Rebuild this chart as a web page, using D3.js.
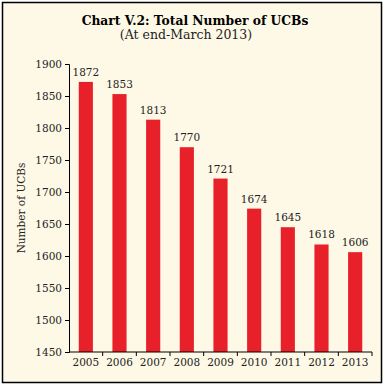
<!DOCTYPE html>
<html>
<head>
<meta charset="utf-8">
<script src="https://cdn.jsdelivr.net/npm/d3@7"></script>
<style>
  body { margin: 0; background: #fff; }
  svg { display: block; }
</style>
</head>
<body>
<div id="chart"></div>
<script>
// Data
var years = ["2005", "2006", "2007", "2008", "2009", "2010", "2011", "2012", "2013"];
var ucbs = [1872, 1853, 1813, 1770, 1721, 1674, 1645, 1618, 1606];
var yTicks = [1450, 1500, 1550, 1600, 1650, 1700, 1750, 1800, 1850, 1900];

var width = 387, height = 387;
var margin = {top: 64, right: 15, bottom: 35, left: 69};
var font = "'DejaVu Serif', 'Liberation Serif', serif";

var svg = d3.select("#chart")
  .append("svg")
    .attr("width", width)
    .attr("height", height);

// Frame
svg.append("rect")
  .attr("x", 2.5)
  .attr("y", 2.5)
  .attr("width", 379)
  .attr("height", 380)
  .attr("fill", "#fdf9e6")
  .attr("stroke", "#000")
  .attr("stroke-width", 1.5);

// Titles
svg.append("text")
  .attr("x", 195)
  .attr("y", 25)
  .attr("text-anchor", "middle")
  .style("font-family", font)
  .style("font-size", "12.3px")
  .style("font-weight", "bold")
  .text("Chart V.2: Total Number of UCBs");

svg.append("text")
  .attr("x", 186)
  .attr("y", 39)
  .attr("text-anchor", "middle")
  .style("font-family", font)
  .style("font-size", "12.5px")
  .style("fill", "#222")
  .text("(At end-March 2013)");

// Scales
var x = d3.scaleBand()
  .domain(years)
  .range([margin.left, 372])
  .paddingInner(0.58)
  .paddingOuter(0.29);

var y = d3.scaleLinear()
  .domain([1450, 1900])
  .range([352, margin.top]);

// Bars
svg.selectAll(".bar")
  .data(ucbs)
  .enter().append("rect")
    .attr("class", "bar")
    .attr("x", (d, i) => x(years[i]))
    .attr("y", d => y(d))
    .attr("width", x.bandwidth())
    .attr("height", d => y(1450) - y(d))
    .attr("fill", "#e8202a");

// Value labels
svg.selectAll(".label")
  .data(ucbs)
  .enter().append("text")
    .attr("class", "label")
    .attr("x", (d, i) => x(years[i]) + x.bandwidth() / 2)
    .attr("y", d => y(d) - 6)
    .attr("text-anchor", "middle")
    .style("font-family", font)
    .style("font-size", "10.5px")
    .style("fill", "#222")
    .text(d => d);

// Y axis
var yAxis = svg.append("g")
  .attr("transform", `translate(${margin.left},0)`)
  .call(d3.axisLeft(y).tickValues(yTicks).tickFormat(d3.format("d")).tickSize(4).tickPadding(3));
yAxis.selectAll("text")
  .style("font-family", font)
  .style("font-size", "10.5px")
  .style("fill", "#222");

// X axis with ticks at band boundaries
var xAxisG = svg.append("g")
  .attr("transform", `translate(0,${y(1450)})`);
xAxisG.append("line")
  .attr("x1", margin.left).attr("x2", 372)
  .attr("stroke", "#000");
xAxisG.selectAll(".xtick")
  .data(years.slice(1).concat(["end"]))
  .enter().append("line")
    .attr("class", "xtick")
    .attr("x1", (d, i) => margin.left + (i + 1) * x.step())
    .attr("x2", (d, i) => margin.left + (i + 1) * x.step())
    .attr("y1", 0).attr("y2", 4)
    .attr("stroke", "#000");
xAxisG.selectAll(".xlabel")
  .data(years)
  .enter().append("text")
    .attr("class", "xlabel")
    .attr("x", d => x(d) + x.bandwidth() / 2)
    .attr("y", 14)
    .attr("text-anchor", "middle")
    .style("font-family", font)
    .style("font-size", "10.5px")
    .style("fill", "#222")
    .text(d => d);

// Y axis title
svg.append("text")
  .attr("transform", "translate(25,208) rotate(-90)")
  .attr("text-anchor", "middle")
  .style("font-family", font)
  .style("font-size", "10.5px")
  .style("fill", "#222")
  .text("Number of UCBs");
</script>
</body>
</html>
